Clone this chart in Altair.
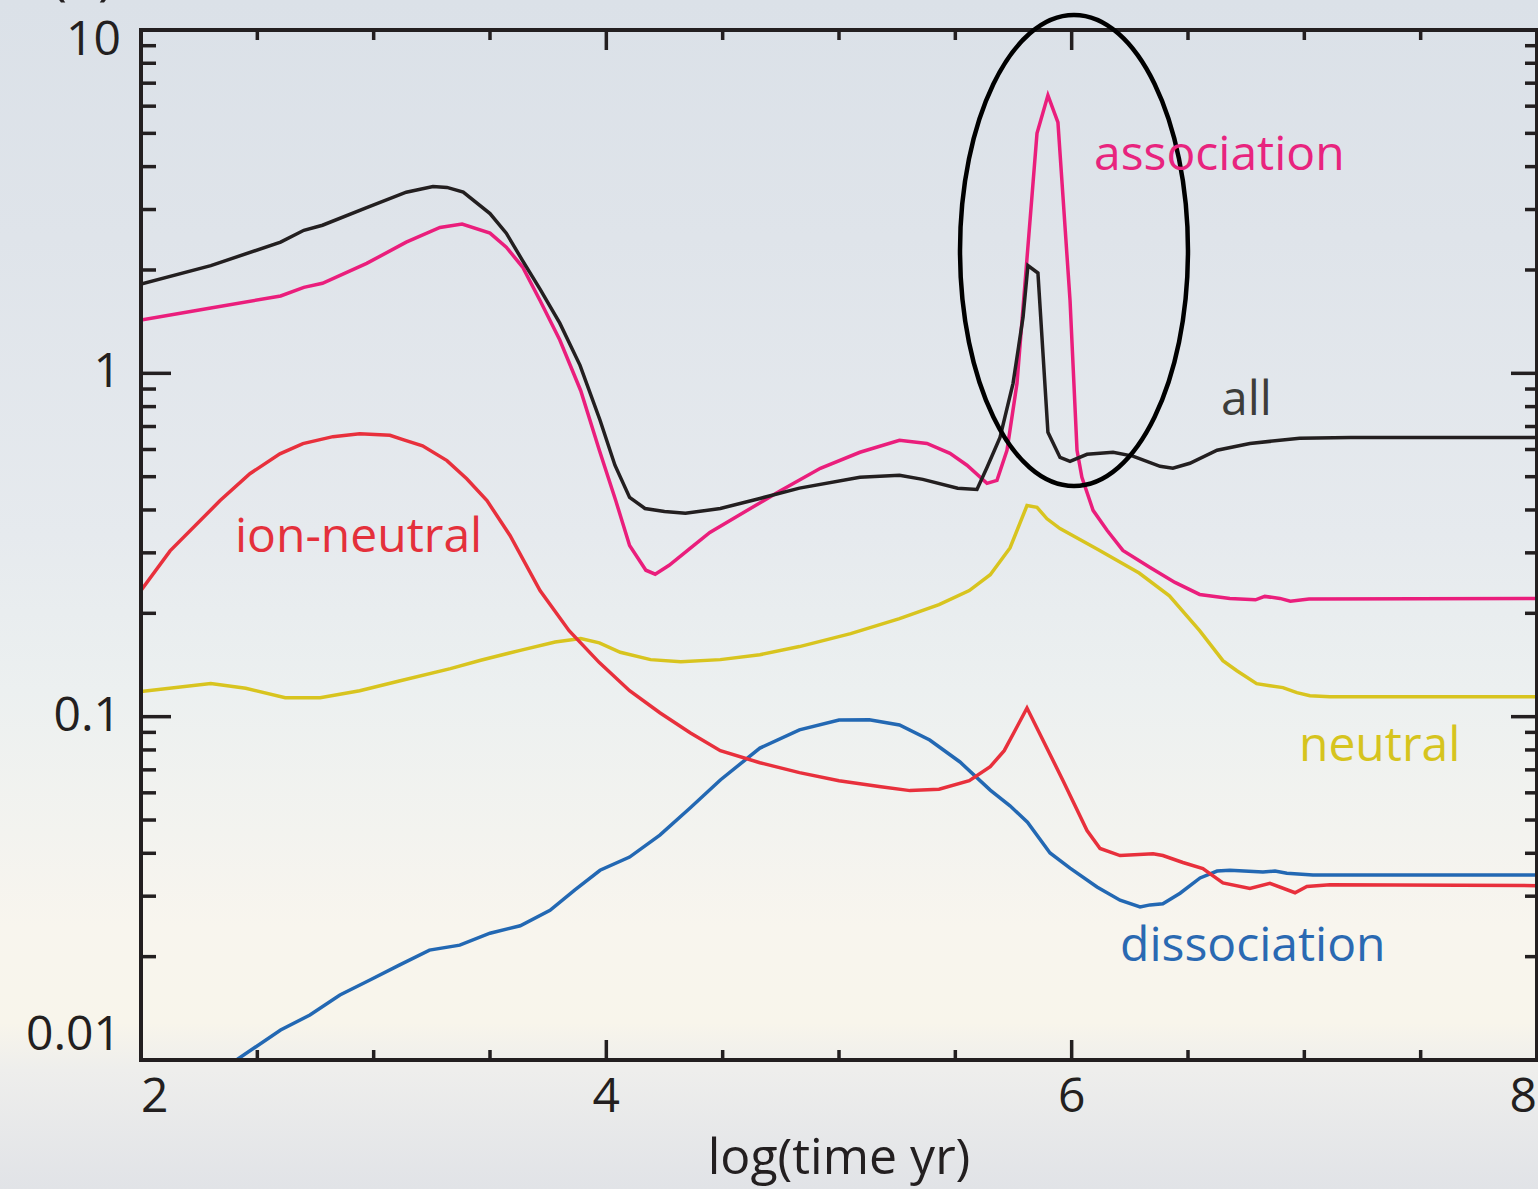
import altair as alt
import pandas as pd

# ---------------- data ----------------
SERIES = ["neutral", "dissociation", "ion-neutral", "association", "all"]
COLORS = ["#d8c41f", "#2368b3", "#e8303c", "#ea1e7c", "#231f20"]

ALL_T = [2.00, 2.30, 2.60, 2.70, 2.78, 2.97, 3.14, 3.255, 3.315, 3.385, 3.50, 3.57, 3.64, 3.715,
         3.80, 3.887, 3.973, 4.037, 4.10, 4.166, 4.25, 4.34, 4.49, 4.66, 4.83, 5.09, 5.26, 5.36, 5.51,
         5.593, 5.636, 5.692, 5.748, 5.791, 5.812, 5.855, 5.898, 5.95, 5.993, 6.066, 6.178, 6.263,
         6.38, 6.435, 6.508, 6.625, 6.766, 6.98, 7.2, 8.0]
ALL_V = [1.82, 2.06, 2.41, 2.61, 2.70, 3.04, 3.37, 3.50, 3.48, 3.37, 2.92, 2.56, 2.13, 1.76,
         1.40, 1.055, 0.73, 0.54, 0.435, 0.404, 0.396, 0.391, 0.404, 0.432, 0.463, 0.498, 0.505, 0.491, 0.463,
         0.459, 0.532, 0.651, 0.935, 1.456, 2.06, 1.96, 0.673, 0.569, 0.554, 0.581, 0.589, 0.574,
         0.536, 0.529, 0.547, 0.597, 0.625, 0.647, 0.65, 0.65]

ASSOC_T = [2.00, 2.30, 2.60, 2.70, 2.78, 2.97, 3.14, 3.285, 3.38, 3.50, 3.57, 3.64, 3.715, 3.80,
           3.89, 3.97, 4.04, 4.10, 4.17, 4.21, 4.27, 4.36, 4.445, 4.57, 4.75, 4.92, 5.09, 5.26,
           5.378, 5.477, 5.55, 5.636, 5.679, 5.722, 5.765, 5.851, 5.898, 5.941, 5.993, 6.023, 6.044,
           6.092, 6.152, 6.22, 6.337, 6.444, 6.55, 6.68, 6.79, 6.83, 6.895, 6.94, 7.02, 8.0]
ASSOC_V = [1.43, 1.55, 1.68, 1.78, 1.83, 2.09, 2.41, 2.66, 2.72, 2.56, 2.33, 2.04, 1.63, 1.25,
           0.89, 0.597, 0.427, 0.315, 0.267, 0.26, 0.276, 0.309, 0.344, 0.386, 0.456, 0.529, 0.589, 0.638,
           0.625, 0.585, 0.54, 0.478, 0.488, 0.597, 0.935, 5.0, 6.45, 5.38, 1.63, 0.597, 0.498,
           0.399, 0.349, 0.305, 0.272, 0.246, 0.227, 0.221, 0.219, 0.224, 0.221, 0.217, 0.22, 0.221]

ION_T = [2.00, 2.125, 2.34, 2.468, 2.597, 2.696, 2.825, 2.94, 3.07, 3.126, 3.21, 3.315, 3.40, 3.487,
         3.586, 3.715, 3.84, 3.97, 4.10, 4.23, 4.36, 4.49, 4.66, 4.83, 5.00, 5.18, 5.305, 5.43,
         5.56, 5.65, 5.71, 5.756, 5.808, 5.963, 6.066, 6.122, 6.208, 6.35, 6.392, 6.478, 6.564,
         6.65, 6.766, 6.852, 6.96, 7.011, 7.11, 8.0]
ION_V = [0.233, 0.304, 0.426, 0.51, 0.583, 0.624, 0.654, 0.667, 0.66, 0.641, 0.615, 0.557, 0.493, 0.426,
         0.337, 0.233, 0.178, 0.1437, 0.119, 0.1027, 0.0898, 0.0796, 0.0734, 0.0687, 0.0651, 0.0625, 0.0609, 0.0615,
         0.0651, 0.0715, 0.0796, 0.091, 0.106, 0.0651, 0.0466, 0.0413, 0.0394, 0.0399, 0.0394, 0.0376, 0.0361,
         0.0328, 0.0316, 0.0327, 0.0307, 0.032, 0.0324, 0.0322]

NEUT_T = [2.00, 2.30, 2.45, 2.62, 2.77, 2.94, 3.11, 3.33, 3.46, 3.63, 3.78, 3.89, 3.97, 4.06,
          4.19, 4.32, 4.49, 4.66, 4.83, 5.05, 5.26, 5.43, 5.56, 5.65, 5.735, 5.808, 5.851, 5.894,
          5.95, 6.109, 6.29, 6.42, 6.55, 6.65, 6.71, 6.795, 6.852, 6.908, 6.968, 7.024, 7.11, 8.0]
NEUT_V = [0.1183, 0.1248, 0.121, 0.1136, 0.1136, 0.119, 0.127, 0.138, 0.146, 0.156, 0.165, 0.169, 0.164, 0.154,
          0.1466, 0.1446, 0.1466, 0.1515, 0.16, 0.1745, 0.193, 0.212, 0.233, 0.259, 0.31, 0.412, 0.407, 0.377,
          0.353, 0.308, 0.262, 0.225, 0.178, 0.1456, 0.1361, 0.1248, 0.1231, 0.1215, 0.1175, 0.1151, 0.1143, 0.1143]

DISS_T = [2.41, 2.60, 2.726, 2.855, 2.984, 3.11, 3.24, 3.37, 3.50, 3.63, 3.758, 3.865, 3.973, 4.10,
          4.23, 4.36, 4.49, 4.66, 4.83, 5.00, 5.13, 5.26, 5.39, 5.52, 5.65, 5.735, 5.81, 5.907,
          5.993, 6.109, 6.208, 6.294, 6.337, 6.392, 6.466, 6.552, 6.625, 6.68, 6.822, 6.874, 6.925,
          7.037, 8.0]
DISS_V = [0.0100, 0.01223, 0.01352, 0.01546, 0.0171, 0.0189, 0.0209, 0.0216, 0.0234, 0.0246, 0.0273, 0.0313, 0.0357, 0.039,
          0.0452, 0.0542, 0.0654, 0.081, 0.0915, 0.0978, 0.098, 0.0946, 0.0855, 0.0738, 0.0611, 0.055, 0.0493, 0.0401,
          0.0362, 0.0319, 0.0292, 0.0279, 0.0283, 0.0285, 0.0306, 0.0339, 0.0355, 0.0357, 0.0353, 0.0355, 0.035,
          0.0346, 0.0346]

LABELS = ["association", "all", "ion-neutral", "neutral", "dissociation"]
LABEL_T = [6.096, 6.642, 2.404, 6.977, 6.208]
LABEL_V = [3.91, 0.756, 0.3017, 0.0743, 0.01948]
LABEL_COLORS = ["#e8247e", "#3d3d3a", "#e4303b", "#d6c41e", "#2a69b2"]

X_MAJOR = [2, 4, 6, 8]
X_LABELS = ["2", "4", "6", "8"]
X_MINOR = [2.5, 3, 3.5, 4.5, 5, 5.5, 6.5, 7, 7.5]
Y_MAJOR = [0.01, 0.1, 1, 10]
Y_LABELS = ["0.01", "0.1", "1", "10"]
Y_MINOR = [0.02, 0.03, 0.04, 0.05, 0.06, 0.07, 0.08, 0.09,
           0.2, 0.3, 0.4, 0.5, 0.6, 0.7, 0.8, 0.9,
           2, 3, 4, 5, 6, 7, 8, 9]
X_TITLE = "log(time yr)"

ELLIPSE_T = [6.01]
ELLIPSE_V = [2.279]

PANEL_TAG = ["(a)"]
PANEL_T = [1.7486]
PANEL_V = [12.7]

# ---------------- build ----------------
W, H = 1396, 1030
INK = "#231f20"
FONT = "Open Sans"

xs = alt.Scale(domain=[2, 8], nice=False, zero=False)
ys = alt.Scale(type="log", domain=[0.01, 10], nice=False)

rows = []
for name, ts, vs in [("neutral", NEUT_T, NEUT_V), ("dissociation", DISS_T, DISS_V),
                     ("ion-neutral", ION_T, ION_V), ("association", ASSOC_T, ASSOC_V),
                     ("all", ALL_T, ALL_V)]:
    for i, (t, v) in enumerate(zip(ts, vs)):
        rows.append({"series": name, "t": t, "v": v, "i": i})
df = pd.DataFrame(rows)

grad = {
    "gradient": "linear", "x1": 0, "x2": 0, "y1": 0, "y2": 1,
    "stops": [
        {"offset": 0.0, "color": "#dbe1e8"},
        {"offset": 0.2, "color": "#dfe4ea"},
        {"offset": 0.45, "color": "#e6eaee"},
        {"offset": 0.58, "color": "#ecf0f0"},
        {"offset": 0.70, "color": "#f3f3ef"},
        {"offset": 0.78, "color": "#f8f5ee"},
        {"offset": 0.86, "color": "#f8f5eb"},
        {"offset": 0.90, "color": "#eeeeec"},
        {"offset": 1.0, "color": "#e1e3e7"},
    ],
}
bg = alt.Chart(pd.DataFrame({"k": [0]})).mark_rect(color=grad).encode(
    x=alt.value(-141), x2=alt.value(W + 1), y=alt.value(-30), y2=alt.value(H + 129)
)

X = lambda: alt.X("t:Q", scale=xs, axis=None)
Y = lambda: alt.Y("v:Q", scale=ys, axis=None)

lines = alt.Chart(df).mark_line(strokeWidth=3.5, clip=True).encode(
    x=X(), y=Y(),
    color=alt.Color("series:N", scale=alt.Scale(domain=SERIES, range=COLORS), legend=None),
    order="i:Q",
)

frame_df = pd.DataFrame({"t": [2, 8, 2, 2], "t2": [2, 8, 8, 8],
                         "v": [0.01, 0.01, 0.01, 10], "v2": [10, 10, 0.01, 10]})
frame = alt.Chart(frame_df).mark_rule(color=INK, strokeWidth=4, strokeCap="square").encode(
    x=X(), x2="t2:Q", y=Y(), y2="v2:Q",
)


def yticks(vals, x0, x1):
    return alt.Chart(pd.DataFrame({"v": vals})).mark_rule(color=INK, strokeWidth=3.5).encode(
        y=Y(), x=alt.value(x0), x2=alt.value(x1))


def xticks(vals, y0, y1):
    return alt.Chart(pd.DataFrame({"t": vals})).mark_rule(color=INK, strokeWidth=3.5).encode(
        x=X(), y=alt.value(y0), y2=alt.value(y1))


ticks = [
    yticks(Y_MAJOR, 0, 30), yticks(Y_MINOR, 0, 15),
    yticks(Y_MAJOR, W, W - 26), yticks(Y_MINOR, W, W - 12),
    xticks(X_MAJOR, H, H - 20), xticks(X_MINOR, H, H - 10),
    xticks(X_MAJOR, 0, 20), xticks(X_MINOR, 0, 10),
]

# tick labels (flush at the ends, like the reference)
xl = pd.DataFrame({"t": X_MAJOR, "label": X_LABELS})
xlab_style = dict(baseline="top", font=FONT, fontSize=48, color=INK)
x_labels = [
    alt.Chart(xl.iloc[[0]]).mark_text(align="left", **xlab_style).encode(
        x=X(), y=alt.value(H + 14), text="label:N"),
    alt.Chart(xl.iloc[[1, 2]]).mark_text(align="center", **xlab_style).encode(
        x=X(), y=alt.value(H + 14), text="label:N"),
    alt.Chart(xl.iloc[[3]]).mark_text(align="right", **xlab_style).encode(
        x=X(), y=alt.value(H + 14), text="label:N"),
]
yl = pd.DataFrame({"v": Y_MAJOR, "label": Y_LABELS})
ylab_style = dict(align="right", font=FONT, fontSize=48, color=INK)
y_labels = [
    alt.Chart(yl.iloc[[0]]).mark_text(baseline="bottom", **ylab_style).encode(
        y=Y(), x=alt.value(-20), text="label:N"),
    alt.Chart(yl.iloc[[1, 2]]).mark_text(baseline="middle", **ylab_style).encode(
        y=Y(), x=alt.value(-20), text="label:N"),
    alt.Chart(yl.iloc[[3]]).mark_text(baseline="top", dy=-13, **ylab_style).encode(
        y=Y(), x=alt.value(-20), text="label:N"),
]
x_title = alt.Chart(pd.DataFrame({"t": [5.0], "label": [X_TITLE]})).mark_text(
    align="center", baseline="alphabetic", font=FONT, fontSize=50, color=INK
).encode(x=X(), y=alt.value(H + 114), text="label:N")

ELLIPSE_PATH = ("M 0,-1 C 0.2673,-1 0.484,-0.5523 0.484,0 C 0.484,0.5523 0.2673,1 0,1 "
                "C -0.2673,1 -0.484,0.5523 -0.484,0 C -0.484,-0.5523 -0.2673,-1 0,-1 Z")
ellipse = alt.Chart(pd.DataFrame({"t": ELLIPSE_T, "v": ELLIPSE_V})).mark_point(
    shape=ELLIPSE_PATH, size=221841, filled=False, color="#000000", strokeWidth=4.5, opacity=1
).encode(x=X(), y=Y())

labels = alt.Chart(pd.DataFrame({"label": LABELS, "t": LABEL_T, "v": LABEL_V, "c": LABEL_COLORS})).mark_text(
    align="left", baseline="alphabetic", font=FONT, fontSize=48
).encode(x=X(), y=Y(), text="label:N", fill=alt.Fill("c:N", scale=None))

tag = alt.Chart(pd.DataFrame({"label": PANEL_TAG, "t": PANEL_T, "v": PANEL_V})).mark_text(
    align="center", baseline="alphabetic", font=FONT, fontSize=56, color=INK
).encode(x=X(), y=Y(), text="label:N")

chart = alt.layer(bg, lines, frame, *ticks, ellipse, labels, *x_labels, *y_labels, x_title, tag).properties(
    width=W, height=H,
    autosize=alt.AutoSizeParams(type="none"),
    padding={"left": 141, "top": 30, "right": 1, "bottom": 129},
    background="#e4e8ec",
).configure_view(stroke=None)

chart.save("out.html", embed_options={"renderer": "svg", "actions": False})
